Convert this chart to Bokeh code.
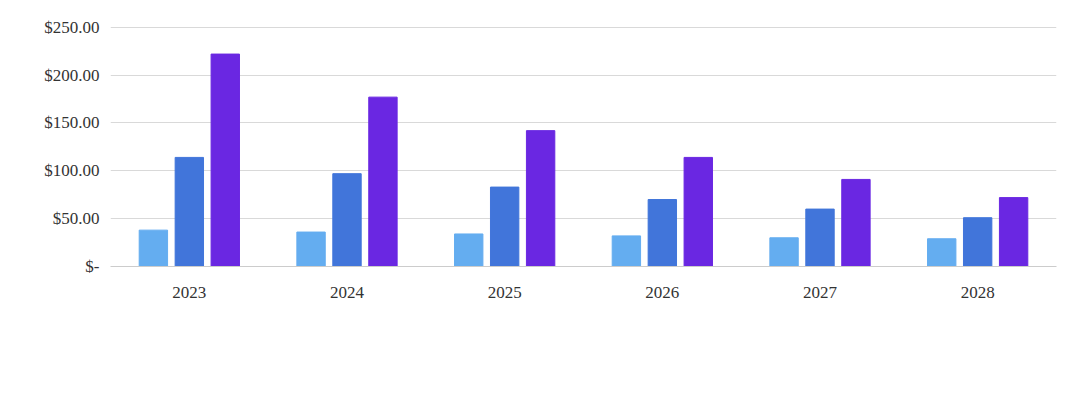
from bokeh.plotting import figure
from bokeh.models import ColumnDataSource, FactorRange, Legend, LegendItem, CustomJSTickFormatter, FixedTicker
from bokeh.transform import dodge
from bokeh.embed import file_html
from bokeh.resources import INLINE

years = ["2023", "2024", "2025", "2026", "2027", "2028"]
oled = [38, 36, 34, 32, 30, 29]
micro_no_ic = [114, 97, 83, 70, 60, 51]
micro_ic = [222, 177, 142, 114, 91, 72]
labels = ['2.0" 502x410 flexible OLED', '2.0" 480x360 micro LED w/o micro IC', '2.0" 400x400 micro LED with micro IC']
colors = ["#64adf0", "#4175da", "#6a27e2"]

src = ColumnDataSource(dict(years=years, a=oled, b=micro_no_ic, c=micro_ic))
p = figure(x_range=FactorRange(*years), y_range=(0, 255), width=1064, height=394,
           output_backend="svg", toolbar_location=None, min_border_left=110,
           min_border_right=8, min_border_top=22, min_border_bottom=128)
rs = []
for key, off, col in zip(["a", "b", "c"], [-0.228, 0, 0.228], colors):
    rs.append(p.vbar(x=dodge("years", off, range=p.x_range), top=key, width=0.18, color=col, source=src))
p.yaxis.ticker = FixedTicker(ticks=[0, 50, 100, 150, 200, 250])
p.yaxis.formatter = CustomJSTickFormatter(code="return tick==0 ? '$-' : '$' + tick.toFixed(2);")
for ax in (p.xaxis, p.yaxis):
    ax.major_label_text_font = "Liberation Serif"
    ax.major_label_text_font_size = "17px"
    ax.major_label_text_color = "#333333"
    ax.major_tick_line_color = None
    ax.minor_tick_line_color = None
p.yaxis.axis_line_color = None
p.xaxis.axis_line_color = "#cccccc"
p.xaxis.major_label_standoff = 14
p.xgrid.grid_line_color = None
p.ygrid.grid_line_color = "#d9d9d9"
p.outline_line_color = None
leg = Legend(items=[LegendItem(label=l, renderers=[r]) for l, r in zip(labels, rs)],
             orientation="horizontal", location=(-88, -118), label_text_font="Liberation Serif",
             label_text_font_size="17px", label_text_color="#333333", glyph_width=10, glyph_height=10,
             spacing=14, border_line_color=None, background_fill_alpha=0, margin=0, padding=0)
p.add_layout(leg, "center")
open("out.html", "w").write(file_html(p, INLINE))
